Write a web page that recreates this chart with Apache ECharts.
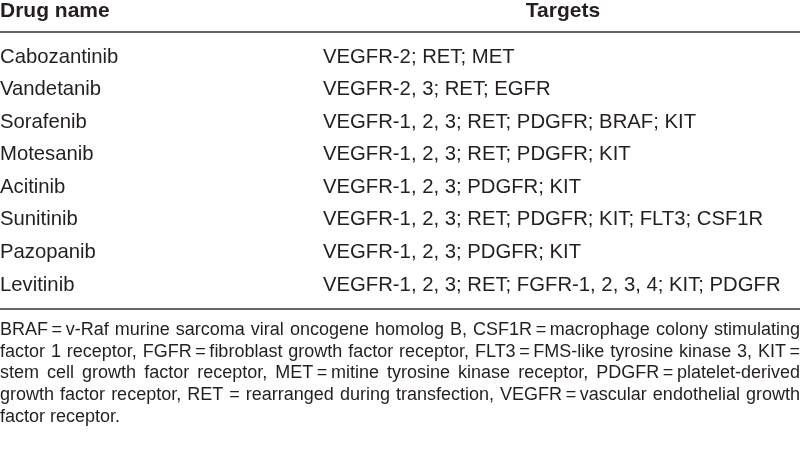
<!DOCTYPE html>
<html>
<head>
<meta charset="utf-8">
<script src="https://cdn.jsdelivr.net/npm/echarts@6/dist/echarts.min.js"></script>
<style>
html,body{margin:0;padding:0;background:#fff;}
#main{width:800px;height:465px;}
</style>
</head>
<body>
<div id="main"></div>
<script>
// ---- data ----
var headers = ['Drug name', 'Targets'];
var drugs = ['Cabozantinib', 'Vandetanib', 'Sorafenib', 'Motesanib', 'Acitinib', 'Sunitinib', 'Pazopanib', 'Levitinib'];
var targets = [
  'VEGFR-2; RET; MET',
  'VEGFR-2, 3; RET; EGFR',
  'VEGFR-1, 2, 3; RET; PDGFR; BRAF; KIT',
  'VEGFR-1, 2, 3; RET; PDGFR; KIT',
  'VEGFR-1, 2, 3; PDGFR; KIT',
  'VEGFR-1, 2, 3; RET; PDGFR; KIT; FLT3; CSF1R',
  'VEGFR-1, 2, 3; PDGFR; KIT',
  'VEGFR-1, 2, 3; RET; FGFR-1, 2, 3, 4; KIT; PDGFR'
];
var footnoteLines = [
  'BRAF\u2009=\u2009v-Raf murine sarcoma viral oncogene homolog B, CSF1R\u2009=\u2009macrophage colony stimulating',
  'factor 1 receptor, FGFR\u2009=\u2009fibroblast growth factor receptor, FLT3\u2009=\u2009FMS-like tyrosine kinase 3, KIT\u2009=',
  'stem cell growth factor receptor, MET\u2009=\u2009mitine tyrosine kinase receptor, PDGFR\u2009=\u2009platelet-derived',
  'growth factor receptor, RET = rearranged during transfection, VEGFR\u2009=\u2009vascular endothelial growth',
  'factor receptor.'
];

// ---- layout / style ----
var FONT = '"Liberation Sans", Arial, sans-serif';
var TXT = '#231f20';
var RULE = '#333333';
var bodySize = 20.3, headSize = 21, noteSize = 18;
var col1X = 0, col2X = 323, targetsHeadX = 563;
var W = 800;

var chart = echarts.init(document.getElementById('main'), null, {renderer: 'canvas'});

var ctx = document.createElement('canvas').getContext('2d');
function measure(t, size) {
  ctx.font = size + 'px ' + FONT;
  return ctx.measureText(t).width;
}

var graphics = [];
graphics.push({type: 'text', x: col1X, y: 11.5, style: {text: headers[0], font: 'bold ' + headSize + 'px ' + FONT, fill: TXT, verticalAlign: 'middle'}});
graphics.push({type: 'text', x: targetsHeadX, y: 11.5, style: {text: headers[1], font: 'bold ' + headSize + 'px ' + FONT, fill: TXT, align: 'center', verticalAlign: 'middle'}});
graphics.push({type: 'line', shape: {x1: 0, y1: 32, x2: W, y2: 32}, style: {stroke: RULE, lineWidth: 1.5}});
graphics.push({type: 'line', shape: {x1: 0, y1: 309, x2: W, y2: 309}, style: {stroke: RULE, lineWidth: 1.5}});

// justified footnote
var noteTop = 330, noteStep = 21.7;
footnoteLines.forEach(function (line, li) {
  var words = line.split(' ');
  var y = noteTop + li * noteStep;
  var last = li === footnoteLines.length - 1;
  var widths = words.map(function (w) { return measure(w, noteSize); });
  var total = widths.reduce(function (a, b) { return a + b; }, 0);
  var sx = 1;
  if (!last && total > W - 4 * (words.length - 1)) { sx = (W - 4 * (words.length - 1)) / total; }
  var gap = last ? measure(' ', noteSize) : (W - total * sx) / (words.length - 1);
  var x = 0;
  words.forEach(function (w, i) {
    graphics.push({type: 'text', x: x, y: y, scaleX: sx, style: {text: w, font: noteSize + 'px ' + FONT, fill: TXT, verticalAlign: 'middle'}});
    x += widths[i] * sx + gap;
  });
});

function rowText(colX, texts) {
  return function (params, api) {
    var p = api.coord([colX, api.value(1)]);
    return {
      type: 'text',
      x: p[0], y: p[1],
      style: {text: texts[params.dataIndex], font: bodySize + 'px ' + FONT, fill: TXT, align: 'left', verticalAlign: 'middle'}
    };
  };
}

var option = {
  animation: false,
  grid: {left: 0, right: 0, top: 40.7, height: 260.6},
  xAxis: {type: 'value', min: 0, max: W, show: false},
  yAxis: {type: 'category', inverse: true, data: drugs, show: false},
  series: [
    {type: 'custom', renderItem: rowText(col1X, drugs), data: drugs.map(function (d, i) { return [col1X, i]; })},
    {type: 'custom', renderItem: rowText(col2X, targets), data: targets.map(function (t, i) { return [col2X, i]; })}
  ],
  graphic: graphics
};
chart.setOption(option);
</script>
</body>
</html>
